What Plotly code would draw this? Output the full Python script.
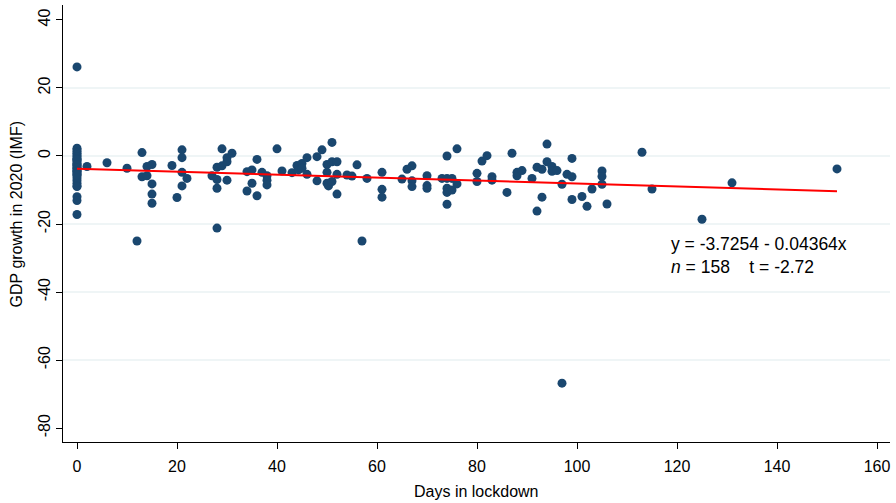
import plotly.graph_objects as go

# Days in lockdown (x) and GDP growth in 2020, IMF (y)
days = [
    0, 0, 0, 0, 0, 0, 0, 0, 0, 0, 0, 0, 0, 0, 0, 0, 0, 0, 0, 0, 0, 0, 0, 0, 0,
    0, 0, 0, 0, 0, 0,
    2, 6, 10, 12, 13, 14, 15, 13, 14, 15, 15, 15, 19, 20,
    21, 21, 21, 22, 21, 27, 28, 28, 28, 28, 29, 29, 30, 30, 31, 30, 34, 35, 36, 35,
    34, 36, 37, 38, 38, 38, 40,
    41, 43, 44, 45, 44.3, 45, 46, 46, 48, 49, 48, 50, 51, 52, 51, 50, 50, 50.3, 51, 52,
    52, 54, 55, 56, 57, 58, 61, 61, 61,
    65, 66, 67, 67, 67, 70, 70, 70, 73, 74, 76, 74, 75, 74, 74, 75, 76, 74, 80, 80,
    81, 82,
    83, 83, 86, 87, 88, 88, 89, 91, 92, 93, 94, 94, 95, 95, 96, 93, 92, 97, 98, 99,
    99, 99, 97, 101, 102, 103,
    105, 105, 105, 106, 113, 115, 125, 131, 152,
]
gdp_growth = [
    26.2, 2.3, 1.8, 1.3, 0.8, 0.3, -0.2, -0.7, -1.2, -1.7, -2.2, -2.7, -3.2, -3.7, -4.2,
    -4.7, -5.2, -5.8, -6.5, -7.2, -8.0, -8.8, -12.0, -13.1, -17.2,
    -1.0, -2.5, -3.5, -4.5, -5.5, -9.0,
    -3.1, -2.0, -3.6, -25.0, 1.0, -3.1, -2.5, -6.1, -5.8, -8.2, -11.2, -13.9, -2.8, -12.2,
    1.8, -0.5, -4.8, -6.6, -8.8, -5.8, -3.3, -6.9, -9.5, -21.2, 2.1, -2.9, -1.7, -0.5,
    0.8, -7.1, -4.6, -4.1, -1.0, -8.0,
    -10.3, -11.7, -4.8, -5.8, -7.1, -8.5, 2.1,
    -4.4, -4.9, -2.8, -2.2, -4.1, -3.6, -0.5, -5.4, -0.2, 1.8, -7.3, -2.5, -1.7, -1.7,
    4.0, -4.8, -8.0, -8.8, -7.5, -5.4,
    -11.2, -5.6, -5.9, -2.6, -25.0, -6.6, -4.8, -9.8, -12.1,
    -6.8, -3.9, -2.9, -7.3, -9.0, -5.8, -8.7, -9.5, -6.6, 0.0, 2.1, -6.6, -6.6, -9.5,
    -10.7, -10.0, -8.2, -14.2, -5.1, -7.5,
    -1.5, 0.1,
    -6.1, -7.1, -10.7, 0.8, -5.8, -4.8, -4.3, -6.6, -3.3, -3.9, 3.5, -1.7, -3.1, -4.5,
    -4.3, -12.1, -16.2, -8.3, -5.4, -6.1,
    -0.7, -12.8, -66.8, -11.9, -14.8, -9.7,
    -4.4, -6.0, -8.3, -14.1, 1.1, -9.7, -18.6, -7.9, -3.8,
]

# Fitted regression (as reported on the chart)
fit_intercept = -3.7254
fit_slope = -0.04364
fit_n = 158
fit_t = -2.72

x_ticks = [0, 20, 40, 60, 80, 100, 120, 140, 160]
y_ticks = [40, 20, 0, -20, -40, -60, -80]
y_grid = [20, 0, -20, -40, -60]

FONT = "Liberation Sans, Arial, sans-serif"
NAVY = "#1a476f"

fit_x = [min(days), max(days)]
fit_y = [fit_intercept + fit_slope * v for v in fit_x]

fig = go.Figure()
fig.add_trace(go.Scatter(
    x=days, y=gdp_growth, mode="markers",
    marker=dict(color=NAVY, size=9, line=dict(width=0)),
    showlegend=False, hoverinfo="x+y",
))
fig.add_trace(go.Scatter(
    x=fit_x, y=fit_y, mode="lines",
    line=dict(color="#ff0000", width=2),
    showlegend=False, hoverinfo="skip",
))

shapes = [
    dict(type="line", xref="paper", yref="y", x0=0, x1=1, y0=g, y1=g,
         line=dict(color="#eaf2f3", width=1.5), layer="below")
    for g in y_grid
]

fig.update_layout(
    width=896, height=503,
    margin=dict(l=63, r=6, t=5, b=61),
    paper_bgcolor="white", plot_bgcolor="white",
    font=dict(family=FONT, size=16, color="#000000"),
    shapes=shapes,
    xaxis=dict(
        range=[-2.8, 162.6], tickvals=x_ticks, ticktext=[str(v) for v in x_ticks],
        showgrid=False, zeroline=False, showline=True, linecolor="black", linewidth=1,
        ticks="outside", ticklen=6, tickcolor="black", automargin=False,
        ticklabelstandoff=4,
        tickfont=dict(family=FONT, size=16),
    ),
    yaxis=dict(
        range=[-84.1, 44.4], tickvals=y_ticks, ticktext=[str(v) for v in y_ticks],
        tickangle=-90, automargin=False,
        showgrid=False, zeroline=False, showline=True, linecolor="black", linewidth=1,
        ticks="outside", ticklen=6, tickcolor="black",
        tickfont=dict(family=FONT, size=16),
    ),
    annotations=[
        dict(
            x=118.4, y=-29.2, xref="x", yref="y", xanchor="left", yanchor="middle",
            align="left", showarrow=False,
            text=(f"y = {fit_intercept} - {abs(fit_slope)}x<br>"
                  f"<i>n</i> = {fit_n}\u00a0\u00a0\u00a0\u00a0t = {fit_t}"),
            font=dict(family=FONT, size=17.5, color="black"),
        ),
        dict(
            x=0.5, y=-0.114, xref="paper", yref="paper", xanchor="center",
            yanchor="middle", showarrow=False, text="Days in lockdown",
            font=dict(family=FONT, size=16, color="black"),
        ),
        dict(
            x=-0.056, y=0.52, xref="paper", yref="paper", xanchor="center",
            yanchor="middle", showarrow=False, textangle=-90,
            text="GDP growth in 2020 (IMF)",
            font=dict(family=FONT, size=16, color="black"),
        ),
    ],
)

fig.write_html(
    "out.html",
    config={"displayModeBar": False},
    post_script="document.body.style.margin='0px';document.body.style.padding='0px';",
)
